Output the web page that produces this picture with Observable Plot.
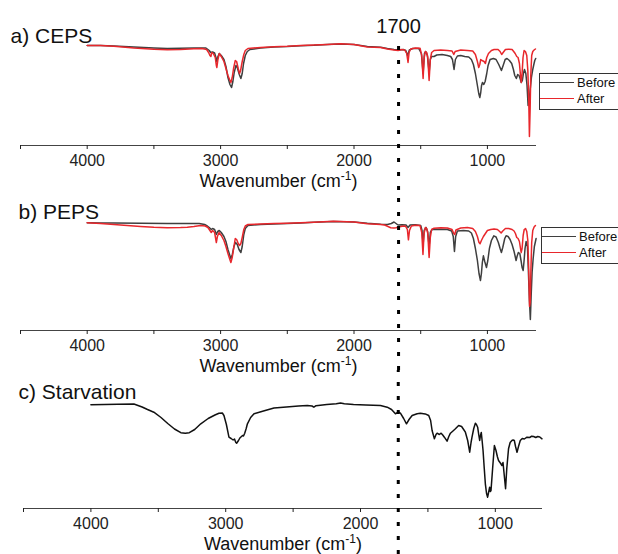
<!DOCTYPE html>
<html><head><meta charset="utf-8">
<script src="https://cdn.jsdelivr.net/npm/d3@7"></script>
<script src="https://cdn.jsdelivr.net/npm/@observablehq/plot@0.6"></script>
<style>
body{margin:0;background:#fff;font-family:"Liberation Sans",Arial,sans-serif;}
#fig{position:relative;width:618px;height:554px;overflow:hidden;background:#fff;}
#fig svg{display:block;overflow:visible;}
.legend{position:absolute;border:1.5px solid #333;width:92px;height:34px;padding-top:1px;box-sizing:content-box;}
.row{height:16px;font-size:13px;white-space:nowrap;display:flex;align-items:center;color:#111;}
.sw{display:inline-block;width:34px;height:0;border-top:1.6px solid;margin-right:3px;}
</style></head>
<body><div id="fig"></div>
<script>
// ---- data (wavenumber cm-1, relative transmittance) ----
const panelTitles = ["a) CEPS", "b) PEPS", "c) Starvation"];
const seriesNames = ["Before", "After"];
const seriesColors = ["#3f3f3f", "#e8272c"];
const tickValues = [4500, 4000, 3500, 3000, 2500, 2000, 1500, 1000];
const markerLabel = "1700";
const axisLabel = "Wavenumber (cm-1)";

const cepsBefore = [[4000,100],[3900,100],[3800,99.5],[3650,98.5],[3500,97.5],[3400,97],[3300,97.3],[3200,97.5],[3110,97.5],[3085,95],[3075,93],[3060,93.5],[3045,92.5],[3035,88],[3028,84],[3020,89],[3010,92],[2995,90],[2975,86],[2960,79],[2945,68],[2930,61],[2918,58],[2908,64],[2898,73],[2885,80],[2875,78],[2860,71],[2848,67],[2838,72],[2828,82],[2815,90],[2800,94],[2780,96],[2700,97.5],[2600,98.5],[2500,99],[2400,99.8],[2300,100.2],[2200,101],[2100,101.5],[2000,101],[1900,99],[1800,98.3],[1750,97],[1700,96],[1660,95.5],[1630,96],[1612,95],[1598,90],[1585,95.5],[1560,97],[1515,97],[1495,92],[1482,72],[1472,92],[1462,94],[1450,90],[1437,73],[1428,86],[1418,89],[1400,89],[1380,90.5],[1340,91],[1300,90],[1275,89],[1262,86],[1250,76],[1240,86],[1225,89.5],[1200,90],[1170,89],[1140,88.5],[1120,86],[1105,81],[1090,72],[1075,60],[1065,52],[1057,48],[1050,53],[1044,60],[1037,63],[1027,61],[1017,64],[1005,72],[995,80],[980,86],[955,87],[935,86],[915,81],[895,75],[882,80],[867,86],[853,87],[835,85],[818,82],[805,76],[795,70],[783,67],[773,71],[763,70],[755,67],[746,63],[738,65],[730,72],[722,76],[712,72],[703,60],[695,40],[688,42],[680,55],[670,68],[660,76],[652,81],[645,85],[638,87]];

const cepsAfter = [[4000,100],[3900,100],[3800,99.3],[3650,97.5],[3500,96.3],[3400,95.8],[3300,96],[3200,96.7],[3140,97],[3105,96],[3090,93],[3080,90],[3073,89],[3066,93],[3055,92],[3040,88],[3032,80],[3028,78],[3020,86],[3010,92],[2995,89],[2975,84],[2960,77],[2945,70],[2933,66],[2923,63],[2913,68],[2903,77],[2890,85],[2880,84],[2868,77],[2858,72],[2850,75],[2838,84],[2826,91],[2815,95],[2795,97],[2700,98],[2600,98.7],[2500,99.2],[2400,100],[2300,100.5],[2200,101],[2100,101.7],[2000,101],[1900,98.6],[1800,98],[1750,96.5],[1700,95.5],[1670,95],[1645,96],[1620,95.5],[1605,92],[1595,83],[1587,93],[1575,96.5],[1540,97.5],[1505,97.3],[1492,90],[1482,67],[1474,88],[1465,94],[1455,93],[1447,88],[1437,65],[1428,86],[1418,93],[1400,95],[1350,95.5],[1300,95],[1265,94.5],[1252,91],[1242,94],[1200,95.5],[1150,95],[1110,94.5],[1090,91],[1075,84],[1065,78],[1057,81],[1050,86],[1040,85],[1025,84],[1015,82],[1005,88],[992,92],[970,95],[950,96],[920,96],[905,94],[893,91],[882,93],[865,96],[840,96.3],[815,96],[803,94],[792,92],[780,89],[770,88],[760,82],[752,70],[746,63],[740,72],[733,88],[725,95],[715,94],[705,90],[697,75],[690,45],[685,9],[680,35],[675,70],[668,90],[660,94],[650,95.5],[640,96.5]];

const pepsBefore = [[4000,107.7],[3900,107.6],[3800,107.5],[3600,107.2],[3400,107],[3250,107],[3160,107],[3120,106],[3100,104.5],[3085,103],[3070,101],[3060,102],[3045,101],[3032,96],[3022,99],[3010,100],[2995,98],[2975,94],[2960,89],[2945,81],[2933,76],[2923,72],[2912,76],[2900,84],[2888,88],[2875,86],[2862,81],[2848,78],[2838,84],[2826,96],[2815,102],[2795,105],[2700,106],[2600,106.5],[2500,107],[2400,107.6],[2300,108.2],[2155,109],[2000,108.5],[1900,107.2],[1800,106.2],[1750,106],[1720,107],[1700,108.5],[1685,107],[1670,105.5],[1640,105.8],[1610,105.5],[1595,103],[1580,105.5],[1540,105.8],[1500,105],[1490,100],[1482,86],[1474,100],[1460,103],[1448,99],[1437,84],[1428,98],[1415,101],[1380,101.3],[1300,101],[1268,99.5],[1256,94],[1247,79],[1238,94],[1225,99.5],[1180,100],[1140,99.5],[1120,97.5],[1105,92],[1090,82],[1075,70],[1063,57],[1052,50],[1045,57],[1038,68],[1030,74.7],[1020,69],[1007,63],[997,70],[985,82],[970,90],[952,94.7],[935,93.5],[918,88],[905,82],[895,78],[885,83],[870,92],[860,94.7],[845,94],[830,91],[815,86],[800,79],[790,73],[785,70],[778,74],[768,78],[757,77],[748,70],[740,63],[732,60],[725,70],[718,82],[710,89],[700,84],[693,60],[685,30],[678,11],[672,35],[665,58],[657,72],[648,84],[635,92]];

const pepsAfter = [[4000,107.7],[3900,107],[3800,106],[3700,105],[3600,104],[3500,103.2],[3400,102.7],[3300,103],[3250,103.3],[3200,104],[3150,105],[3115,104.5],[3095,103],[3080,100],[3070,98],[3060,100],[3045,98],[3032,88],[3024,94],[3012,98],[2995,95],[2975,90],[2960,84],[2945,77],[2933,72],[2923,68],[2913,73],[2900,84],[2890,92],[2880,91],[2868,87],[2858,85],[2848,87],[2838,93],[2826,101],[2815,104.5],[2795,106],[2700,106.5],[2600,107],[2500,107.3],[2400,107.7],[2300,108.3],[2155,109.3],[2000,108.5],[1900,106.8],[1800,106],[1770,105.5],[1745,104],[1725,102.8],[1700,102.5],[1685,102.7],[1665,103.5],[1640,104.2],[1615,104.5],[1600,101],[1592,90.7],[1584,100],[1570,104.5],[1540,105.3],[1505,105],[1492,98],[1483,76],[1475,97],[1465,103],[1455,102],[1447,97],[1437,73],[1428,93],[1418,101],[1400,102.3],[1350,102.7],[1300,102.5],[1265,101],[1252,97],[1245,96],[1236,100.5],[1200,102.5],[1150,103],[1110,102],[1090,99],[1075,94],[1063,88],[1055,86.7],[1045,90],[1030,94],[1015,97],[1000,100],[975,101],[950,101.5],[925,101],[908,99],[897,97.5],[885,99.5],[865,102],[840,102],[815,101],[800,99.5],[790,97],[780,93],[770,92],[760,89],[752,82],[747,78],[740,82],[732,95],[724,101],[714,102],[705,99],[697,90],[690,60],[684,24],[679,28],[674,60],[668,88],[660,100],[650,103.5],[640,105]];

const starvation = [[4000,103.7],[3900,104],[3800,104.3],[3681,104.5],[3620,101.5],[3580,99],[3533,96.3],[3480,91],[3430,85],[3380,79.5],[3333,75.8],[3300,75.3],[3270,75.8],[3230,79],[3185,84.7],[3130,90],[3080,93.5],[3050,95.3],[3025,95.5],[3013,93],[2995,84],[2976,71.3],[2960,70],[2945,68.5],[2935,69.5],[2925,66],[2919,65.3],[2905,68],[2895,70.5],[2889,71.3],[2875,73],[2868,72.5],[2859,75.3],[2848,80],[2839,84.7],[2815,91],[2790,94.7],[2720,97.5],[2642,100.5],[2550,101.5],[2460,102.5],[2395,103],[2360,102.5],[2346,101.3],[2330,102.8],[2250,104],[2180,104.8],[2148,105.5],[2120,104.8],[2052,104],[1960,103.6],[1852,103],[1802,101.3],[1770,99],[1741,94.7],[1720,96.5],[1704,95.3],[1680,90],[1659,84.7],[1640,89],[1617,93],[1580,94.8],[1556,95.3],[1520,94.6],[1494,93],[1480,88],[1469,78],[1452,69.7],[1440,74],[1432,75.3],[1415,74],[1402,75.3],[1390,73.5],[1378,71.3],[1358,67.3],[1345,72],[1333,75.3],[1310,78],[1296,79.7],[1272,83],[1250,82],[1235,79],[1222,76.3],[1205,68],[1190,56.3],[1180,66],[1173,71.3],[1160,80],[1148,85.3],[1140,84],[1131,81.3],[1122,73],[1116,68],[1110,73],[1104,76],[1098,68],[1091,58],[1082,40],[1074,24.7],[1065,15],[1057,11.3],[1050,16],[1042,21.3],[1037,17],[1032,18],[1020,40],[1007,63],[995,58],[985,52],[976,48],[960,45],[951,43],[943,46],[935,35],[924,19.7],[915,40],[902,59.7],[890,66],[877,68],[868,68.5],[859,68],[850,62],[839,56.3],[828,62],[815,68],[800,70],[785,69.5],[765,71.3],[745,71],[730,72.3],[716,72],[700,71],[685,72],[670,71.5],[654,69.7]];

const toRows = (pairs, series) => pairs.map(([wn, t]) => ({wn, t, series}));

// ---- layout ----
const font = '"Liberation Sans", Arial, sans-serif';
const panels = [
  {title: panelTitles[0], series: [cepsBefore, cepsAfter], domain: [4500, 632], height: 190,
   mt: 25, mb: 45, ml: 20, mr: 82, marker: 1666, ruleTop: 109, titleDx: -10, titleDy: 17, showMarkerLabel: true,
   legend: {left: 539, top: 72.5}},
  {title: panelTitles[1], series: [pepsBefore, pepsAfter], domain: [4500, 632], height: 180,
   mt: 20, mb: 40, ml: 20, mr: 82, marker: 1666, ruleTop: 140, titleDx: -2, titleDy: 8.5, showMarkerLabel: false,
   legend: {left: 541, top: 226.5}},
  {title: panelTitles[2], series: [starvation], domain: [4500, 650], height: 184,
   mt: 18, mb: 46, ml: 23, mr: 76, marker: 1720, ruleTop: 138, titleDx: -5, titleDy: 10, showMarkerLabel: false,
   legend: null}
];

const fig = document.getElementById("fig");

panels.forEach(p => {
  const lineMarks = p.series.map((s, i) => Plot.line(toRows(s, seriesNames[i]), {
    x: "wn", y: "t",
    stroke: p.series.length === 1 ? "#111" : seriesColors[i],
    strokeWidth: 1.5
  }));
  const marks = [
    Plot.ruleY([0], {stroke: "#444", strokeWidth: 1}),
    Plot.axisX(tickValues, {tickSize: 4, tickPadding: 5, tickFormat: d => d % 1000 ? "" : String(d),
      fontSize: 16, color: "#222", label: null}),
    ...lineMarks,
    Plot.ruleX([p.marker], {y1: -p.mb, y2: p.ruleTop, stroke: "#000", strokeWidth: 3, strokeDasharray: "4,10"}),
    Plot.text([p.title], {frameAnchor: "top-left", text: d => d, dx: p.titleDx, dy: p.titleDy,
      lineAnchor: "bottom", textAnchor: "start", fontSize: 21, fill: "#111"}),
    Plot.text([axisLabel], {frameAnchor: "bottom", text: d => d, dy: 41, lineAnchor: "bottom",
      fontSize: 18, fill: "#111"})
  ];
  if (p.showMarkerLabel) {
    marks.push(Plot.text([markerLabel], {x: p.marker, y: 120, text: d => d, dy: 7, lineAnchor: "bottom",
      fontSize: 20, fill: "#111"}));
  }
  const svg = Plot.plot({
    width: 618, height: p.height,
    marginTop: p.mt, marginBottom: p.mb, marginLeft: p.ml, marginRight: p.mr,
    x: {domain: p.domain},
    y: {domain: [0, 120], axis: null},
    style: {fontFamily: font, fontSize: "16px", overflow: "visible", background: "transparent"},
    marks
  });
  // superscript for cm-1
  d3.select(svg).selectAll("text").filter(function () { return this.textContent === axisLabel; })
    .each(function () {
      const t = d3.select(this);
      t.text(null);
      t.append("tspan").text("Wavenumber (cm");
      t.append("tspan").attr("dy", -7).attr("font-size", 12).text("-1");
      t.append("tspan").attr("dy", 7).attr("font-size", 18).text(")");
    });
  fig.appendChild(svg);

  if (p.legend) {
    const lg = d3.select(fig).append("div").attr("class", "legend")
      .style("left", p.legend.left + "px").style("top", p.legend.top + "px");
    seriesNames.forEach((name, i) => {
      const row = lg.append("div").attr("class", "row");
      row.append("span").attr("class", "sw").style("border-top-color", seriesColors[i]);
      row.append("span").text(name);
    });
  }
});
</script></body></html>
